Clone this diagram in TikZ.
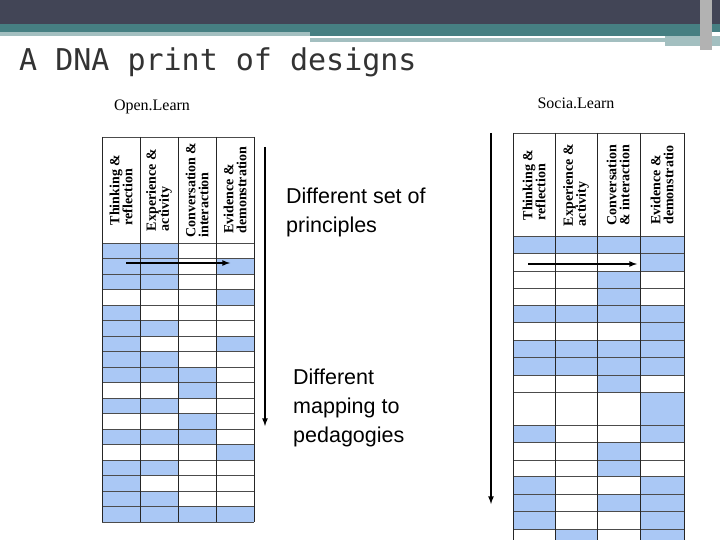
\documentclass[tikz,border=0pt]{standalone}
\usepackage{fontspec}
\setmainfont{Liberation Serif}
\newfontfamily\titlefont{DejaVu Sans Mono}
\newfontfamily\armfont{Liberation Sans}
\begin{document}
\begin{tikzpicture}[x=1pt,y=-1pt,
  hdr/.style={rotate=90,font=\bfseries\fontsize{14}{13}\selectfont,align=left,anchor=center},
  arr/.style={-latex,line width=1.6pt},
  gline/.style={black!70,line width=0.5pt},
  vline/.style={black!85,line width=0.9pt},
  big/.style={font=\armfont\fontsize{21.5}{29}\selectfont,align=left,anchor=north west,inner sep=0pt}]
\definecolor{cellblue}{RGB}{170,200,245}
\definecolor{topdark}{RGB}{66,69,86}
\definecolor{teal}{RGB}{70,127,130}
\definecolor{lteal}{RGB}{163,191,192}
\useasboundingbox (0,0) rectangle (720,540);
\fill[white] (0,0) rectangle (720,540);
% top bar
\fill[topdark] (0,0) rectangle (720,24);
\fill[teal] (0,24) rectangle (720,32);
\fill[lteal] (0,32) rectangle (310,36);
\fill[teal] (310,32) rectangle (700,36);
\fill[lteal] (310,38) rectangle (665,42);
\fill[lteal] (665,36) rectangle (720,46);
\fill[gray!60] (700,0) rectangle (712,50);
\node[font=\titlefont\fontsize{30}{30}\selectfont,anchor=west,inner sep=0pt,text=black!80] (title) at (19,62) {A DNA print of designs};
\node[font=\fontsize{16}{16}\selectfont] (ol) at (152,107) {Open.Learn};
\node[font=\fontsize{16}{16}\selectfont] (sl) at (576,103) {Socia.Learn};
% left grid
\foreach \r/\a/\b/\c/\d in {0/1/1/0/0,1/1/1/0/1,2/1/1/0/0,3/0/0/0/1,4/1/0/0/0,5/1/1/0/0,6/1/0/0/1,7/1/1/0/0,8/1/1/1/0,9/0/0/1/0,10/1/1/0/0,11/0/0/1/0,12/1/1/1/0,13/0/0/0/1,14/1/1/0/0,15/1/0/0/0,16/1/1/0/0,17/1/1/1/1}{
  \pgfmathsetmacro\ya{243+\r*15.5}\pgfmathsetmacro\yb{\ya+15.5}
  \ifnum\a=1 \fill[cellblue] (102,\ya) rectangle (140,\yb);\fi
  \ifnum\b=1 \fill[cellblue] (140,\ya) rectangle (178,\yb);\fi
  \ifnum\c=1 \fill[cellblue] (178,\ya) rectangle (216,\yb);\fi
  \ifnum\d=1 \fill[cellblue] (216,\ya) rectangle (254,\yb);\fi
}
\foreach \r in {0,...,18}{\pgfmathsetmacro\yb{243+\r*15.5}\draw[gline] (102,\yb) -- (254,\yb);}
\draw[gline] (102,137) -- (254,137);
\foreach \x in {102,140,178,216,254}{\draw[vline] (\x,137) -- (\x,522);}
\node[hdr] (h1) at (121,190) {Thinking \&\\reflection};
\node[hdr] (h2) at (159,190) {Experience \&\\activity};
\node[hdr] (h3) at (197,190) {Conversation \&\\interaction};
\node[hdr] (h4) at (235,190) {Evidence \&\\demonstration};
% right grid
\foreach \r/\ya/\yb/\a/\b/\c/\d in {1/236/253.3/1/1/1/1,2/253.3/271.7/0/0/0/1,3/271.7/288.3/0/0/1/0,4/288.3/305/0/0/1/0,5/305/322.7/1/1/1/1,6/322.7/340/0/0/0/1,7/340/357.7/1/1/1/1,8/357.7/375/1/1/1/1,9/375/392.3/0/0/1/0,10/392.3/425.7/0/0/0/1,11/425.7/442.3/1/0/0/1,12/442.3/460/0/0/1/0,13/460/476.7/0/0/1/0,14/476.7/494.3/1/0/0/1,15/494.3/511.7/1/0/1/1,16/511.7/529/1/0/0/1,17/529/545/0/1/0/1}{
  \ifnum\a=1 \fill[cellblue] (513,\ya) rectangle (555,\yb);\fi
  \ifnum\b=1 \fill[cellblue] (555,\ya) rectangle (597,\yb);\fi
  \ifnum\c=1 \fill[cellblue] (597,\ya) rectangle (640,\yb);\fi
  \ifnum\d=1 \fill[cellblue] (640,\ya) rectangle (684,\yb);\fi
}
\foreach \yb in {133,236,253.3,271.7,288.3,305,322.7,340,357.7,375,392.3,425.7,442.3,460,476.7,494.3,511.7,529}{\draw[gline] (513,\yb) -- (684,\yb);}
\foreach \x in {513,555,597,640,684}{\draw[vline] (\x,133) -- (\x,540);}
\node[hdr] (r1) at (534,185) {Thinking \&\\reflection};
\node[hdr] (r2) at (576,185) {Experience \&\\activity};
\node[hdr] (r3) at (618,185) {Conversation\\\& interaction};
\node[hdr] (r4) at (662,185) {Evidence \&\\demonstratio};
% arrows
\coordinate (lv1) at (265,147); \coordinate (lv2) at (265,426);
\draw[arr] (lv1) -- (lv2);
\coordinate (rv1) at (491,133); \coordinate (rv2) at (491,504);
\draw[arr] (rv1) -- (rv2);
\coordinate (lh1) at (126,263); \coordinate (lh2) at (230,263);
\draw[arr] (lh1) -- (lh2);
\coordinate (rh1) at (528,264); \coordinate (rh2) at (637,264);
\draw[arr] (rh1) -- (rh2);
\node[big] (t1) at (286,188) {Different set of\\principles};
\node[big] (t2) at (293,369) {Different\\mapping to\\pedagogies};
\end{tikzpicture}
\end{document}
